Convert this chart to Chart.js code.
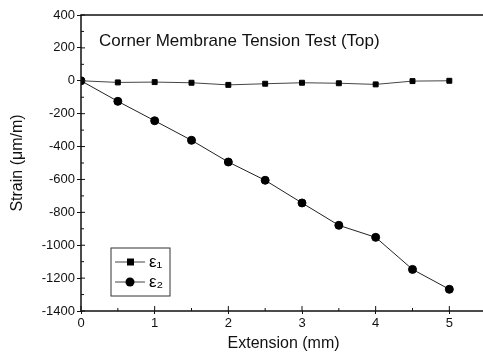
<!DOCTYPE html>
<html><head><meta charset="utf-8">
<script src="https://cdn.jsdelivr.net/npm/chart.js@4"></script>
<style>html,body{margin:0;padding:0;background:#fff;overflow:hidden;width:483px;height:358px}canvas{display:block}</style>
</head><body><canvas id="c" width="528" height="358"></canvas>
<script>
const extension = [0, 0.5, 1, 1.5, 2, 2.5, 3, 3.5, 4, 4.5, 5];
const eps1 = [0, -10, -8, -12, -25, -18, -12, -15, -22, -2, 0];
const eps2 = [0, -125, -243, -362, -494, -605, -743, -879, -952, -1147, -1268];
const seriesLabels = ['ε₁', 'ε₂'];
const xTickValues = [0, 1, 2, 3, 4, 5];
const yTickValues = [-1400, -1200, -1000, -800, -600, -400, -200, 0, 200, 400];
const chartTitle = 'Corner Membrane Tension Test (Top)';
const xTitle = 'Extension (mm)';
const yTitle = 'Strain (μm/m)';
const FONT = '"Liberation Sans", Arial, sans-serif';

const framePlugin = {
  id: 'frame',
  afterDatasetsDraw(chart) {
    const {ctx, chartArea: a, scales} = chart;
    ctx.save();
    ctx.strokeStyle = '#111'; ctx.lineWidth = 1.5;
    ctx.beginPath();
    ctx.moveTo(chart.width, a.top); ctx.lineTo(a.left, a.top);
    ctx.lineTo(a.left, a.bottom); ctx.lineTo(chart.width, a.bottom);
    ctx.stroke();
    ctx.lineWidth = 1;
    ctx.beginPath();
    const xs = scales.x.ticks.map(t => t.value);
    xs.forEach((v, i) => {
      const px = scales.x.getPixelForValue(v);
      ctx.moveTo(px, a.bottom); ctx.lineTo(px, a.bottom - 5);
      const mx = scales.x.getPixelForValue(v + 0.5);
      ctx.moveTo(mx, a.bottom); ctx.lineTo(mx, a.bottom - 3);
    });
    const ys = scales.y.ticks.map(t => t.value);
    ys.forEach((v, i) => {
      const py = scales.y.getPixelForValue(v);
      ctx.moveTo(a.left, py); ctx.lineTo(a.left + 4, py);
      if (i < ys.length - 1) {
        const my = scales.y.getPixelForValue((v + ys[i + 1]) / 2);
        ctx.moveTo(a.left, my); ctx.lineTo(a.left + 3, my);
      }
    });
    ctx.stroke();
    ctx.fillStyle = '#111';
    ctx.font = '17px ' + FONT;
    ctx.textBaseline = 'middle';
    ctx.fillText(chartTitle, a.left + 18, a.top + 26);
    const lx = a.left + 30, ly = a.bottom - 63, lw = 59, lh = 48;
    ctx.lineWidth = 1; ctx.strokeStyle = '#333';
    ctx.strokeRect(lx, ly, lw, lh);
    chart.data.datasets.forEach((ds, i) => {
      const cy = ly + 14 + i * 20;
      ctx.strokeStyle = '#444'; ctx.lineWidth = 1;
      ctx.beginPath(); ctx.moveTo(lx + 4, cy); ctx.lineTo(lx + 34, cy); ctx.stroke();
      ctx.fillStyle = '#000';
      if (ds.pointStyle === 'rect') ctx.fillRect(lx + 16, cy - 3.5, 7, 7);
      else { ctx.beginPath(); ctx.arc(lx + 19, cy, 4.5, 0, Math.PI * 2); ctx.fill(); }
      ctx.font = '17px ' + FONT;
      ctx.fillText(ds.label, lx + 38, cy);
    });
    ctx.restore();
  }
};

new Chart(document.getElementById('c'), {
  type: 'line',
  data: {
    datasets: [
      { label: seriesLabels[0], data: extension.map((x, i) => ({x, y: eps1[i]})),
        borderColor: '#444', borderWidth: 1, pointStyle: 'rect', pointRadius: 3.5,
        pointBackgroundColor: '#000', pointBorderColor: '#000', tension: 0 },
      { label: seriesLabels[1], data: extension.map((x, i) => ({x, y: eps2[i]})),
        borderColor: '#222', borderWidth: 1, pointStyle: 'circle', pointRadius: 4,
        pointBackgroundColor: '#000', pointBorderColor: '#000', tension: 0 }
    ]
  },
  options: {
    responsive: false, animation: false,
    layout: { padding: { top: 15, right: 0, left: 0, bottom: 0 } },
    plugins: { legend: { display: false }, tooltip: { enabled: false } },
    scales: {
      x: {
        type: 'linear', min: 0, max: 6,
        afterFit(s) { s.height = 47; },
        afterBuildTicks(s) { s.ticks = xTickValues.map(v => ({value: v})); },
        ticks: { color: '#111', font: { family: FONT, size: 13 }, padding: 2, maxRotation: 0,
                 callback: v => String(v) },
        grid: { display: true, drawOnChartArea: false, drawTicks: true, tickLength: 3, color: '#111' },
        border: { display: false },
        title: { display: false }
      },
      y: {
        type: 'linear', min: -1400, max: 400,
        afterFit(s) { s.width = 81; },
        afterBuildTicks(s) { s.ticks = yTickValues.map(v => ({value: v})); },
        ticks: { color: '#111', font: { family: FONT, size: 13 }, padding: 2, callback: v => String(v) },
        grid: { display: true, drawOnChartArea: false, drawTicks: true, tickLength: 4, color: '#111' },
        border: { display: false },
        title: { display: true, text: yTitle, color: '#111', font: { family: FONT, size: 16 }, padding: { top: 8, bottom: 4 } }
      }
    }
  },
  plugins: [framePlugin, {
    id: 'xTitle',
    afterDraw(chart) {
      const {ctx} = chart;
      ctx.save();
      ctx.fillStyle = '#111'; ctx.font = '16px ' + FONT;
      ctx.textAlign = 'center'; ctx.textBaseline = 'middle';
      ctx.fillText(xTitle, chart.scales.x.getPixelForValue(2.75), 344);
      ctx.restore();
    }
  }]
});
</script></body></html>
